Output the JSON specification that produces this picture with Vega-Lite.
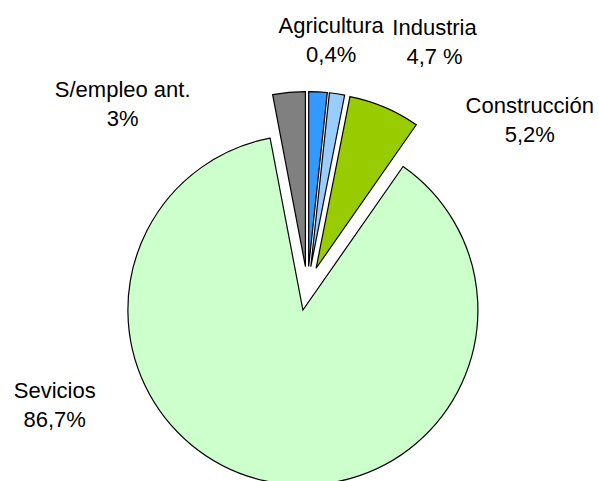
{
  "$schema": "https://vega.github.io/schema/vega-lite/v6.json",
  "width": 583,
  "height": 385,
  "autosize": {"type": "none"},
  "padding": {"left": 16, "top": 96, "right": 0, "bottom": 0},
  "background": "white",
  "config": {"view": {"stroke": null}},
  "data": {
    "values": [
      {"cat": "Agricultura", "share": 1.7, "label": "Agricultura\n0,4%", "order": 1},
      {"cat": "Industria", "share": 1.4, "label": "Industria\n4,7 %", "order": 2},
      {"cat": "Construcción", "share": 6.6, "label": "Construcción\n5,2%", "order": 3},
      {"cat": "Servicios", "share": 87.3, "label": "Sevicios\n86,7%", "order": 4},
      {"cat": "S/empleo ant.", "share": 3.0, "label": "S/empleo ant.\n3%", "order": 5}
    ]
  },
  "encoding": {
    "theta": {"field": "share", "type": "quantitative", "stack": true},
    "order": {"field": "order", "type": "quantitative"}
  },
  "layer": [
    {
      "mark": {
        "type": "arc",
        "outerRadius": 175,
        "stroke": "black",
        "strokeWidth": 1.2,
        "xOffset": {"expr": "22*sin(PI*(datum.share_start+datum.share_end)/100)"},
        "yOffset": {"expr": "-22*cos(PI*(datum.share_start+datum.share_end)/100)"}
      },
      "encoding": {
        "color": {
          "field": "cat",
          "type": "nominal",
          "scale": {
            "domain": ["Agricultura", "Industria", "Construcción", "Servicios", "S/empleo ant."],
            "range": ["#3399FF", "#99CCFF", "#99CC00", "#CCFFCC", "#808080"]
          },
          "legend": null
        }
      }
    },
    {
      "mark": {
        "type": "text",
        "radius": 200,
        "lineBreak": "\n",
        "font": "Liberation Sans",
        "fontSize": 22,
        "lineHeight": 29,
        "align": "center",
        "baseline": "alphabetic",
        "fill": "black",
        "dx": {"expr": "datum.cat==='Agricultura'?13:datum.cat==='Industria'?97:datum.cat==='Construcción'?144:datum.cat==='Servicios'?-211:-166"},
        "dy": {"expr": "datum.cat==='Agricultura'?-56:datum.cat==='Industria'?-56:datum.cat==='Construcción'?9:datum.cat==='Servicios'?-86:8"}
      },
      "encoding": {
        "text": {"field": "label", "type": "nominal"}
      }
    }
  ]
}
